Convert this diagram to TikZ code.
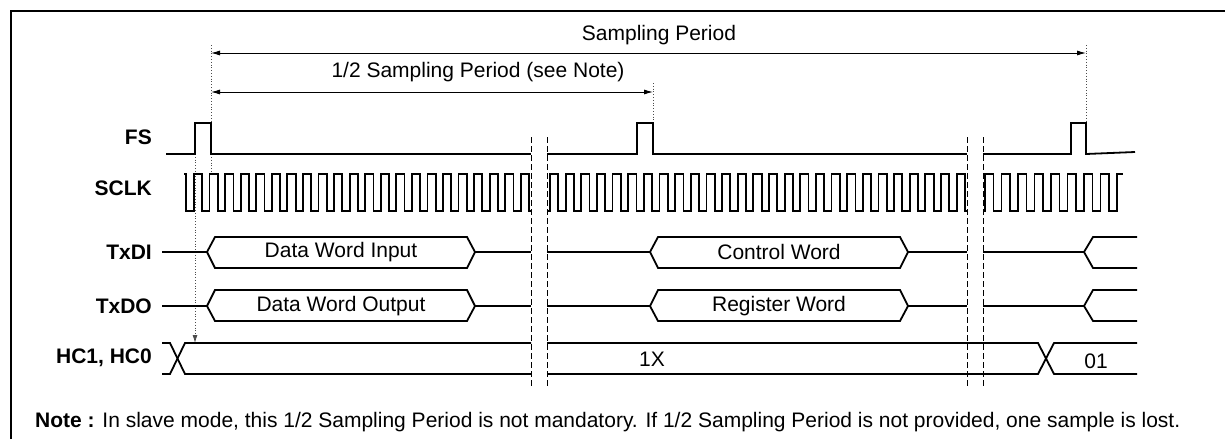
\documentclass[tikz,border=0pt]{standalone}
\usepackage{fontspec}
\setmainfont{Liberation Sans}
\usetikzlibrary{arrows.meta}
\begin{document}
\begin{tikzpicture}[x=1pt,y=-1pt,
  sig/.style={line width=1.8pt,line join=miter,line cap=butt},
  dim/.style={line width=0.9pt,{Latex[length=9pt,width=5pt]}-{Latex[length=9pt,width=5pt]}},
  guide/.style={line width=0.8pt,dotted,black!70},
  brk/.style={line width=1pt,dash pattern=on 6pt off 3pt},
  lbl/.style={font=\fontsize{21}{24}\selectfont\bfseries,anchor=east,inner sep=0pt},
  txt/.style={font=\fontsize{21}{24}\selectfont,inner sep=0pt}]
\useasboundingbox (0,0) rectangle (1225,439);
% frame
\draw[line width=2pt] (11,439) -- (11,11) -- (1225,11);
% signal names
\node[lbl] (lfs) at (152,137) {FS};
\node[lbl] (lsclk) at (152,188) {SCLK};
\node[lbl] (ltxdi) at (152,252) {TxDI};
\node[lbl] (ltxdo) at (152,306) {TxDO};
\node[lbl] (lhc) at (152,358) {HC1, HC0};
% dimension arrows
\coordinate (sA) at (211,53);
\coordinate (sB) at (1086,53);
\coordinate (hA) at (211,92);
\coordinate (hB) at (653,92);
\draw[dim] (sA) -- (sB);
\draw[dim] (hA) -- (hB);
\node[txt] (tsp) at (659,35) {Sampling Period};
\node[txt] (thsp) at (478,72) {1/2 Sampling Period (see Note)};
% guides
\draw[guide] (211,45) -- (211,173);
\draw[guide] (653,83) -- (653,123);
\draw[guide] (1086,45) -- (1086,123);
\coordinate (gA) at (195,154);
\coordinate (gB) at (195,343);
\draw[guide,-{Latex[length=8pt,width=5pt]}] (gA) -- (gB);
% breaks
\draw[brk] (531,137) -- (531,388);
\draw[brk] (547,137) -- (547,388);
\draw[brk] (967,137) -- (967,388);
\draw[brk] (983,137) -- (983,388);
% FS
\draw[sig] (166,154) -- (195,154) -- (195,123) -- (211,123) -- (211,154) -- (531,154);
\draw[sig] (547,154) -- (637,154) -- (637,123) -- (653,123) -- (653,154) -- (967,154);
\draw[sig] (983,154) -- (1071,154) -- (1071,123) -- (1086,123) -- (1086,154) -- (1135,152);
% SCLK
\draw[sig] (184,174) -- (186,174) -- (186,211) -- (194,211)
  \foreach \k in {0,...,21}{ -- ({194+\k*15.56},211) -- ({194+\k*15.56},174) -- ({194+\k*15.56+8.3},174) -- ({194+\k*15.56+8.3},211) } -- (531,211);
\draw[sig] (547,211) -- (550,211)
  \foreach \k in {0,...,26}{ -- ({550+\k*15.64},211) -- ({550+\k*15.64},174) -- ({550+\k*15.64+8.3},174) -- ({550+\k*15.64+8.3},211) } -- (967,211);
\draw[sig] (983,211) -- (985,211)
  \foreach \k in {0,...,7}{ -- ({985+\k*16.5},211) -- ({985+\k*16.5},174) -- ({985+\k*16.5+8.5},174) -- ({985+\k*16.5+8.5},211) } -- (1117,211) -- (1117,174) -- (1123,174);
% TxDI
\draw[sig] (162,252) -- (207,252);
\draw[sig] (207,252) -- (215,237) -- (467,237) -- (475,252) -- (467,268) -- (215,268) -- cycle;
\draw[sig] (475,252) -- (531,252);
\draw[sig] (547,252) -- (650,252);
\draw[sig] (650,252) -- (658,237) -- (900,237) -- (908,252) -- (900,268) -- (658,268) -- cycle;
\draw[sig] (908,252) -- (967,252);
\draw[sig] (983,252) -- (1084,252);
\draw[sig] (1137,237) -- (1093,237) -- (1084,252) -- (1093,268) -- (1137,268);
\node[txt] (dwi) at (341,252) {Data Word Input};
\node[txt] (cw) at (779,252) {Control Word};
% TxDO
\draw[sig] (162,306) -- (207,306);
\draw[sig] (207,306) -- (215,290) -- (467,290) -- (475,306) -- (467,321) -- (215,321) -- cycle;
\draw[sig] (475,306) -- (531,306);
\draw[sig] (547,306) -- (650,306);
\draw[sig] (650,306) -- (658,290) -- (900,290) -- (908,306) -- (900,321) -- (658,321) -- cycle;
\draw[sig] (908,306) -- (967,306);
\draw[sig] (983,306) -- (1084,306);
\draw[sig] (1137,290) -- (1093,290) -- (1084,306) -- (1093,321) -- (1137,321);
\node[txt] (dwo) at (341,306) {Data Word Output};
\node[txt] (rw) at (779,306) {Register Word};
% HC1, HC0
\draw[sig] (162,343) -- (170,343) -- (185,374) -- (531,374);
\draw[sig] (162,374) -- (170,374) -- (185,343) -- (531,343);
\draw[sig] (547,343) -- (1038,343) -- (1054,374) -- (1137,374);
\draw[sig] (547,374) -- (1038,374) -- (1054,343) -- (1137,343);
\node[txt] (v1x) at (652,359) {1X};
\node[txt] (v01) at (1096,361) {01};
% note
\node[txt,anchor=west] (note) at (35,422) {\textbf{Note :} In slave mode, this 1/2 Sampling Period is not mandatory. If 1/2 Sampling Period is not provided, one sample is lost.};
\end{tikzpicture}
\end{document}
